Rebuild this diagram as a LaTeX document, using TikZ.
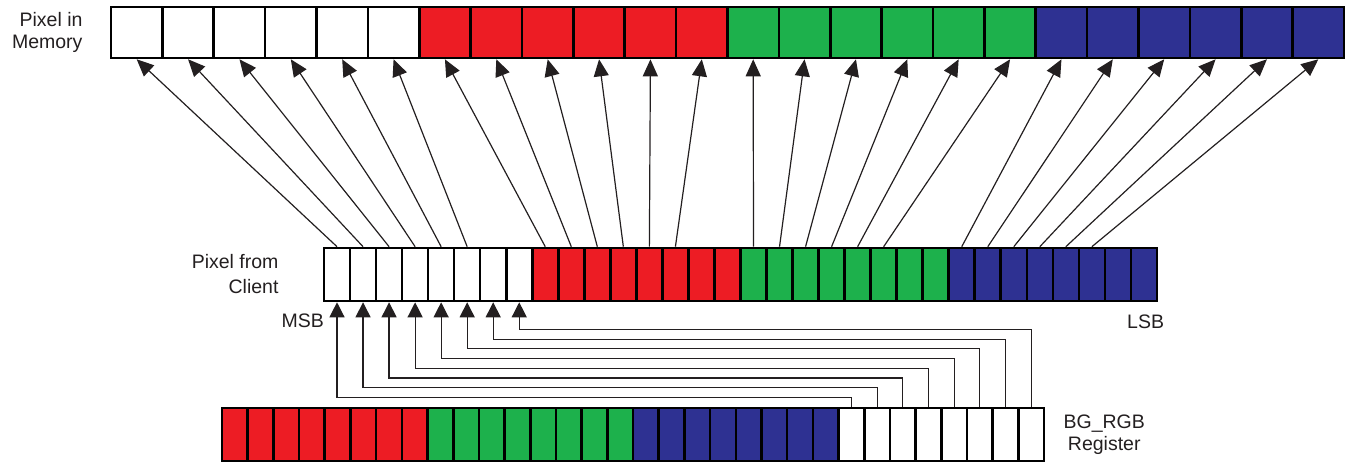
\documentclass[tikz,border=0pt]{standalone}
\usepackage{fontspec}
\setmainfont{Liberation Sans}
\usetikzlibrary{arrows.meta, positioning}
\definecolor{pixred}{RGB}{237,28,36}
\definecolor{pixgreen}{RGB}{29,177,76}
\definecolor{pixblue}{RGB}{46,49,146}
\definecolor{inkgray}{RGB}{35,31,32}
\tikzset{
    bitcell/.style={
        rectangle,
        draw=black,
        line width=2.6pt,
        inner sep=0pt
    },
    topcell/.style={bitcell, minimum width=51.4pt, minimum height=51pt},
    midcell/.style={bitcell, minimum width=26.03pt, minimum height=53pt},
    botcell/.style={bitcell, minimum width=25.69pt, minimum height=53pt},
    maparrow/.style={
        -{Triangle[length=17pt, width=15pt]},
        line width=1.2pt,
        draw=inkgray
    },
    bgarrow/.style={
        -{Triangle[length=15pt, width=15pt]},
        line width=1.2pt,
        draw=inkgray
    },
    lbl/.style={
        font=\fontsize{19.5}{22}\selectfont,
        text=inkgray,
        inner sep=0pt
    }
}
\begin{document}
\begin{tikzpicture}[x=1pt, y=-1pt]
    \useasboundingbox (0,0) rectangle (1348,462);

    % pixel in memory, 24 bits
    \foreach \g/\col in {0/white, 1/pixred, 2/pixgreen, 3/pixblue}
        \foreach \j in {0,...,5} {
            \pgfmathtruncatemacro\i{6*\g+\j}
            \node[topcell, fill=\col] (top-\i) at ({111+51.375*(\i+0.5)}, 32.5) {};
        }

    % pixel from client, 32 bits
    \foreach \g/\col in {0/white, 1/pixred, 2/pixgreen, 3/pixblue}
        \foreach \j in {0,...,7} {
            \pgfmathtruncatemacro\i{8*\g+\j}
            \node[midcell, fill=\col] (mid-\i) at ({324+26.03*(\i+0.5)}, 274.5) {};
        }

    % BG_RGB register, 32 bits
    \foreach \g/\col in {0/pixred, 1/pixgreen, 2/pixblue, 3/white}
        \foreach \j in {0,...,7} {
            \pgfmathtruncatemacro\i{8*\g+\j}
            \node[botcell, fill=\col] (bot-\i) at ({222+25.69*(\i+0.5)}, 434.5) {};
        }

    % client bits to memory bits (top 6 of each byte)
    \foreach \g in {0,...,3}
        \foreach \j in {0,...,5} {
            \pgfmathtruncatemacro\s{8*\g+\j}
            \pgfmathtruncatemacro\t{6*\g+\j}
            \draw[maparrow] (mid-\s.north) -- (top-\t.south);
        }

    % register low byte to client high byte
    \foreach \k in {0,...,7} {
        \pgfmathtruncatemacro\b{24+\k}
        \draw[bgarrow] (bot-\b.north) -- ++(0,{-(9.4+9.7*\k)}) -| (mid-\k.south);
    }

    \node[lbl, align=right, left=27pt of top-0] (memlabel) {Pixel in\\Memory};
    \node[lbl, align=right, left=44pt of mid-0] (clientlabel) {Pixel from\\[3pt]Client};
    \node[lbl, below left=11.5pt and -1.5pt of mid-0.south west] (msb) {MSB};
    \node[lbl, below left=12.5pt and -6pt of mid-31.south east] (lsb) {LSB};
    \node[lbl, align=center, right=18pt of bot-31] (reglabel) {BG\_RGB\\Register};
\end{tikzpicture}
\end{document}
